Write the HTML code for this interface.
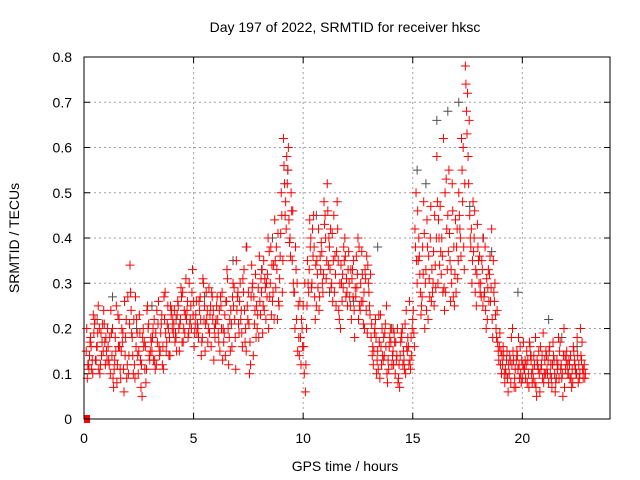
<!DOCTYPE html>
<html><head><meta charset="utf-8"><style>
html,body{margin:0;padding:0;background:#fff;}
svg{display:block;font-family:"Liberation Sans",sans-serif;}
</style></head><body>
<svg id="chart" width="640" height="480" viewBox="0 0 640 480" xmlns="http://www.w3.org/2000/svg">
<text x="345" y="32" font-size="14" text-anchor="middle" fill="#000">Day 197 of 2022, SRMTID for receiver hksc</text>
<text transform="translate(19,238) rotate(-90)" font-size="14" text-anchor="middle" fill="#000">SRMTID / TECUs</text>
<text x="345" y="471" font-size="14" text-anchor="middle" fill="#000">GPS time / hours</text>
<g id="grid"></g>
<g id="ticks"></g>
<g id="grey"></g>
<g id="red"></g>
<rect x="84" y="57" width="526" height="362" fill="none" stroke="#000" stroke-width="1"/>
</svg>
<script>
const xTicks=[0,5,10,15,20];
const yTicks=[0,0.1,0.2,0.3,0.4,0.5,0.6,0.7,0.8];
const yTickLabels=["0","0.1","0.2","0.3","0.4","0.5","0.6","0.7","0.8"];
const valsA=[.15,.12,.18,.10,.22,.16,.20,.14,.24,.18,
.16,.10,.20,.13,.08,.22,.15,.11,.18,.27,
.34,.18,.12,.22,.15,.07,.20,.16,.25,.13,
.15,.22,.12,.26,.19,.16,.28,.21,.18,.24,
.21,.18,.25,.22,.28,.19,.24,.30,.20,.26,
.23,.20,.27,.18,.25,.22,.29,.16,.24,.21,
.22,.15,.28,.19,.26,.12,.24,.30,.18,.27,
.26,.19,.33,.15,.28,.12,.30,.24,.20,.36,
.28,.35,.22,.40,.30,.26,.44,.33,.25,.50,
.62,.48,.55,.40,.35,.28,.22,.18,.12,.25,
.06,.35,.44,.30,.38,.25,.42,.33,.28,.45,
.52,.38,.30,.45,.25,.35,.20,.32,.40,.28,
.30,.22,.35,.27,.40,.24,.32,.20,.36,.28,
.18,.12,.22,.15,.09,.20,.14,.25,.11,.17,
.15,.10,.20,.07,.18,.13,.24,.16,.11,.22,
.42,.30,.36,.25,.48,.33,.22,.40,.28,.45,
.58,.40,.32,.62,.28,.45,.35,.52,.25,.38,
.50,.36,.60,.78,.72,.45,.30,.40,.25,.35,
.30,.25,.38,.22,.32,.42,.28,.20,.15,.12,
.12,.08,.15,.10,.18,.13,.07,.11,.16,.09,
.11,.15,.07,.13,.09,.18,.12,.06,.14,.10,
.14,.08,.12,.17,.06,.11,.15,.09,.20,.13,
.10,.14,.08,.12,.18,.09,.13,.11];
const valsB=[.09,.14,.11,.19,.13,.25,.12,.21,.17,.13,
.12,.19,.07,.15,.23,.11,.17,.26,.09,.14,
.24,.10,.27,.14,.19,.05,.17,.11,.21,.18,
.20,.11,.17,.14,.23,.27,.15,.20,.25,.22,
.17,.23,.15,.27,.20,.31,.18,.22,.33,.19,
.19,.26,.14,.30,.21,.17,.23,.27,.20,.25,
.17,.25,.20,.14,.31,.22,.16,.29,.35,.21,
.22,.31,.17,.25,.10,.34,.27,.18,.29,.23,
.19,.31,.27,.37,.23,.34,.29,.41,.36,.28,
.52,.58,.44,.50,.30,.38,.15,.26,.20,.10,
.20,.28,.40,.36,.22,.32,.27,.37,.48,.31,
.34,.42,.26,.36,.48,.22,.30,.38,.27,.33,
.25,.33,.18,.29,.38,.26,.21,.31,.34,.23,
.14,.19,.10,.23,.16,.13,.21,.08,.18,.12,
.19,.13,.09,.17,.12,.21,.15,.26,.14,.19,
.50,.35,.28,.38,.20,.44,.31,.26,.37,.29,
.30,.47,.36,.24,.42,.55,.33,.27,.44,.31,
.42,.55,.33,.68,.52,.38,.48,.28,.43,.36,
.35,.27,.20,.33,.26,.18,.30,.24,.16,.10,
.14,.10,.06,.13,.20,.09,.15,.12,.08,.17,
.09,.13,.16,.08,.12,.05,.15,.11,.19,.10,
.10,.16,.07,.13,.09,.18,.11,.05,.14,.12,
.12,.07,.15,.10,.08,.20,.11,.09];
const valsC=[.20,.11,.16,.23,.13,.19,.10,.17,.21,.15,
.13,.24,.09,.18,.12,.16,.20,.06,.22,.10,
.28,.14,.09,.19,.23,.12,.16,.08,.20,.15,
.18,.13,.24,.16,.21,.11,.19,.25,.14,.20,
.24,.15,.20,.29,.17,.23,.26,.21,.28,.16,
.26,.18,.22,.31,.15,.24,.19,.28,.13,.22,
.19,.27,.13,.23,.33,.18,.21,.25,.11,.28,
.30,.16,.24,.38,.21,.27,.14,.32,.23,.26,
.33,.24,.30,.20,.38,.28,.35,.22,.31,.45,
.56,.42,.60,.36,.46,.20,.30,.14,.22,.16,
.12,.30,.38,.42,.27,.35,.24,.39,.32,.40,
.46,.33,.41,.28,.37,.24,.34,.29,.36,.25,
.27,.31,.24,.36,.22,.30,.26,.33,.19,.25,
.21,.15,.18,.11,.23,.14,.19,.10,.16,.20,
.12,.17,.08,.14,.20,.11,.16,.12,.18,.24,
.38,.46,.32,.27,.41,.24,.36,.47,.30,.34,
.48,.34,.40,.29,.53,.37,.26,.46,.32,.42,
.45,.62,.38,.74,.58,.40,.35,.46,.32,.30,
.27,.40,.24,.29,.36,.22,.26,.18,.13,.15,
.16,.11,.09,.14,.12,.07,.13,.18,.10,.12,
.13,.08,.17,.10,.14,.07,.11,.16,.09,.13,
.11,.15,.09,.14,.08,.12,.17,.10,.07,.15,
.13,.09,.16,.11,.14,.10,.17,.12];
const valsD=[.12,.17,.13,.21,.16,.11,.19,.15,.12,.20,
.18,.14,.11,.25,.16,.09,.19,.14,.12,.21,
.19,.22,.16,.10,.13,.18,.11,.24,.14,.17,
.13,.19,.21,.15,.12,.22,.17,.14,.23,.19,
.19,.26,.21,.17,.24,.22,.19,.25,.23,.21,
.21,.24,.17,.22,.28,.20,.25,.22,.18,.27,
.24,.20,.17,.26,.20,.15,.27,.22,.24,.19,
.24,.28,.20,.22,.17,.29,.21,.25,.18,.31,
.25,.29,.32,.27,.34,.22,.38,.26,.41,.35,
.45,.52,.39,.46,.28,.33,.25,.18,.16,.30,
.25,.33,.29,.45,.34,.29,.36,.30,.43,.35,
.40,.29,.35,.32,.42,.30,.26,.35,.31,.37,
.33,.27,.29,.32,.25,.37,.28,.24,.30,.32,
.16,.20,.13,.17,.12,.18,.16,.13,.20,.14,
.17,.14,.12,.19,.15,.10,.18,.13,.20,.16,
.35,.40,.23,.32,.30,.38,.27,.33,.25,.40,
.44,.37,.28,.50,.33,.41,.30,.38,.28,.35,
.40,.48,.52,.63,.66,.42,.37,.33,.38,.28,
.33,.28,.31,.26,.29,.35,.23,.17,.19,.14,
.10,.13,.12,.08,.15,.11,.14,.09,.13,.11,
.12,.10,.14,.11,.08,.13,.10,.12,.08,.15,
.13,.10,.12,.10,.13,.09,.12,.14,.11,.10,
.09,.11,.13,.10,.12,.14,.09,.10];
const greyTimes=[0.6,1.3,2.4,3.1,4.2,5.5,6.8,7.4,8.1,8.6,9.3,10.6,11.2,12.3,13.4,14.1,15.2,15.6,16.1,16.6,17.1,17.6,18.2,18.6,19.3,19.8,20.4,21.2,21.8,22.5];
const greyVals=[.22,.27,.20,.25,.22,.27,.35,.38,.33,.40,.55,.45,.28,.26,.38,.20,.55,.52,.66,.68,.70,.47,.40,.37,.15,.28,.14,.22,.18,.16];
const ns='http://www.w3.org/2000/svg';
const X0=84,X1=610,Y0=419,Y1=57,XMAX=24,YMAX=0.8;
function sx(t){return X0+(X1-X0)*t/XMAX;}
function sy(v){return Y0-(Y0-Y1)*v/YMAX;}
function mk(tag,attrs,parent){const e=document.createElementNS(ns,tag);for(const k in attrs)e.setAttribute(k,attrs[k]);parent.appendChild(e);return e;}
const grid=document.getElementById('grid'),ticks=document.getElementById('ticks');
xTicks.forEach(t=>{
 const x=sx(t);
 if(t>0){const l=mk('line',{x1:x,x2:x,y1:Y1,y2:Y0,stroke:'#a0a0a0','stroke-dasharray':'2,3'},grid);
 
 }
 mk('line',{x1:x,x2:x,y1:Y0,y2:Y0-6,stroke:'#000'},ticks);
 mk('line',{x1:x,x2:x,y1:Y1,y2:Y1+6,stroke:'#000'},ticks);
 const tx=mk('text',{x:x,y:443,'font-size':14,'text-anchor':'middle',fill:'#000'},ticks);
 tx.textContent=String(t);
 
 
});
yTicks.forEach((v,i)=>{
 const y=sy(v);
 if(v>0&&v<0.8){const l=mk('line',{x1:X0,x2:X1,y1:y,y2:y,stroke:'#a0a0a0','stroke-dasharray':'2,3'},grid);
 
 }
 mk('line',{x1:X0,x2:X0+6,y1:y,y2:y,stroke:'#000'},ticks);
 mk('line',{x1:X1,x2:X1-6,y1:y,y2:y,stroke:'#000'},ticks);
 const tx=mk('text',{x:72,y:y+5,'font-size':14,'text-anchor':'end',fill:'#000'},ticks);
 tx.textContent=yTickLabels[i];
 
 
});
function plus(g,t,v,col){
 const x=sx(t),y=sy(v);
 const p=mk('path',{d:`M${x-4.5} ${y}H${x+4.5}M${x} ${y-4.5}V${y+4.5}`,stroke:col,'stroke-width':1,fill:'none'},g);
 
 
}
const grey=document.getElementById('grey'),red=document.getElementById('red');
greyTimes.forEach((t,i)=>plus(grey,t,greyVals[i],'#505050'));
valsA.forEach((v,i)=>{
 const t=0.1*(i+1);
 plus(red,t,v,'#ff0000');
 plus(red,t+0.025,valsC[i],'#ff0000');
 plus(red,t+0.05,valsB[i],'#ff0000');
 plus(red,t+0.075,valsD[i],'#ff0000');
});
const sq=mk('rect',{x:sx(0),y:sy(0)-4,width:6,height:8,fill:'#ff0000'},red);


</script>
</body></html>
